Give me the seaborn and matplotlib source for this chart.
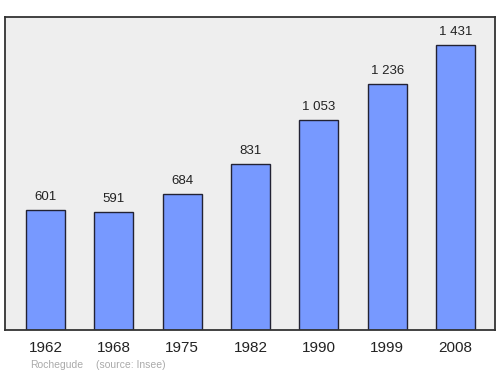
import matplotlib
matplotlib.use("Agg")
import matplotlib.pyplot as plt
import seaborn as sns
import pandas as pd

years = ["1962", "1968", "1975", "1982", "1990", "1999", "2008"]
population = [601, 591, 684, 831, 1053, 1236, 1431]
value_labels = ["601", "591", "684", "831", "1 053", "1 236", "1 431"]

sns.set_theme(style="white")
plt.rcParams['font.family'] = ['Liberation Sans', 'DejaVu Sans']

df = pd.DataFrame({"year": years, "pop": population})

fig = plt.figure(figsize=(5, 3.74), dpi=100)
ax = fig.add_axes([5/500, 1 - 330/374, 490/500, 313/374])
ax.set_facecolor("#eeeeee")
sns.barplot(data=df, x="year", y="pop", color="#7799ff", saturation=1,
            width=0.57, edgecolor="#222233", linewidth=1, ax=ax)
ax.set_xlim(-0.593, 6.578)
ax.set_ylim(0, 1571)
for i, (v, lab) in enumerate(zip(population, value_labels)):
    ax.text(i, v + 35, lab, ha="center", va="bottom", fontsize=9.5, color="#222222")
ax.set_yticks([])
ax.set_xlabel("")
ax.set_ylabel("")
ax.tick_params(axis="x", length=0, labelsize=11, pad=8, colors="#222222")
for s in ax.spines.values():
    s.set_visible(True)
    s.set_color("#333333")
    s.set_linewidth(1.3)
fig.text(30/500, 1 - 365/374, "Rochegude", fontsize=7.5, color="#aaaaaa", va="center", ha="left")
fig.text(96/500, 1 - 365/374, "(source: Insee)", fontsize=7.5, color="#aaaaaa", va="center", ha="left")
fig.savefig("out.png", dpi=100, facecolor="white")
